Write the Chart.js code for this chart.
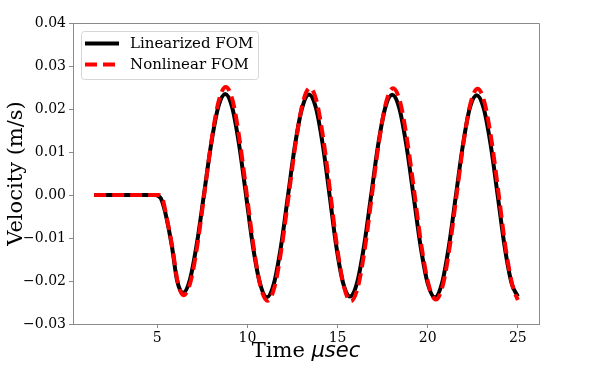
<!DOCTYPE html>
<html>
<head>
<meta charset="utf-8">
<script src="https://cdn.jsdelivr.net/npm/chart.js@4/dist/chart.umd.min.js"></script>
<style>
  html, body { margin: 0; padding: 0; background: #fff; }
  #wrap { width: 598px; height: 366px; }
</style>
</head>
<body>
<div id="wrap"><canvas id="velChart" width="598" height="366"></canvas></div>
<script>
// tick labels
var xTicks = [5, 10, 15, 20, 25];
var yTicks = [-0.03, -0.02, -0.01, 0, 0.01, 0.02, 0.03, 0.04];

// Linearized FOM
var linTime = [1.5, 2.5, 3.5, 4.5, 4.9, 5.0, 5.2, 5.44, 5.81, 6.09, 6.42,
  6.81, 7.20, 7.60, 7.99, 8.38, 8.77,
  9.16, 9.54, 9.93, 10.31, 10.70, 11.08,
  11.47, 11.86, 12.25, 12.64, 13.03, 13.42,
  13.80, 14.18, 14.56, 14.93, 15.31, 15.69,
  16.08, 16.47, 16.86, 17.25, 17.64, 18.03,
  18.43, 18.82, 19.22, 19.61, 20.01, 20.40,
  20.79, 21.17, 21.56, 21.95, 22.33, 22.72,
  23.11, 23.50, 23.89, 24.27, 24.66, 25.0];
var linVel = [0, 0, 0, 0, 0, -0.0001, -0.0008, -0.0040, -0.0119, -0.0197, -0.0228,
  -0.0197, -0.0112, 0.0004, 0.0119, 0.0204, 0.0235,
  0.0203, 0.0117, -0.0002, -0.0120, -0.0206, -0.0238,
  -0.0206, -0.0120, -0.0002, 0.0116, 0.0202, 0.0234,
  0.0203, 0.0117, -0.0001, -0.0119, -0.0205, -0.0236,
  -0.0205, -0.0119, -0.0002, 0.0116, 0.0202, 0.0233,
  0.0201, 0.0115, -0.0003, -0.0120, -0.0207, -0.0238,
  -0.0206, -0.0121, -0.0003, 0.0115, 0.0201, 0.0232,
  0.0201, 0.0115, -0.0003, -0.0120, -0.0206, -0.0236];

// Nonlinear FOM
var nonTime = [1.5, 2.5, 3.5, 4.5, 5.1, 5.3, 5.5, 5.85, 6.12, 6.46,
  6.85, 7.24, 7.63, 8.02, 8.41, 8.80,
  9.19, 9.57, 9.96, 10.35, 10.73, 11.12,
  11.51, 11.90, 12.30, 12.69, 13.08, 13.47,
  13.85, 14.23, 14.61, 14.98, 15.36, 15.74,
  16.13, 16.52, 16.91, 17.30, 17.69, 18.08,
  18.48, 18.87, 19.27, 19.66, 20.06, 20.45,
  20.84, 21.22, 21.61, 22.00, 22.38, 22.77,
  23.16, 23.55, 23.94, 24.32, 24.71, 25.0];
var nonVel = [0, 0, 0, 0, 0, -0.0010, -0.0048, -0.0125, -0.0200, -0.0233,
  -0.0201, -0.0112, 0.0009, 0.0130, 0.0219, 0.0251,
  0.0218, 0.0127, 0.0003, -0.0122, -0.0213, -0.0246,
  -0.0213, -0.0122, 0.0002, 0.0125, 0.0216, 0.0249,
  0.0216, 0.0125, 0.0001, -0.0123, -0.0214, -0.0247,
  -0.0214, -0.0123, 0.0001, 0.0124, 0.0215, 0.0248,
  0.0215, 0.0125, 0.0003, -0.0120, -0.0210, -0.0243,
  -0.0210, -0.0121, 0.0002, 0.0125, 0.0214, 0.0247,
  0.0214, 0.0124, 0.0001, -0.0122, -0.0212, -0.0244];

function toPoints(xs, ys) {
  return xs.map(function (x, i) { return { x: x, y: ys[i] }; });
}

var frameColor = '#8a8a8a';
var serif = "'DejaVu Serif', serif";

// frame top/right, legend box and x title
var extras = {
  id: 'extras',
  afterDraw: function (chart) {
    var ctx = chart.ctx, a = chart.chartArea;
    ctx.save();
    ctx.strokeStyle = frameColor;
    ctx.lineWidth = 1;
    ctx.beginPath();
    ctx.moveTo(a.left, a.top + 0.5);
    ctx.lineTo(a.right + 0.5, a.top + 0.5);
    ctx.lineTo(a.right + 0.5, a.bottom);
    ctx.stroke();

    // legend
    var bx = 81.5, by = 31.5, bw = 177, bh = 48;
    ctx.fillStyle = 'rgba(255,255,255,0.8)';
    ctx.strokeStyle = '#d6d6d6';
    ctx.beginPath();
    ctx.roundRect(bx, by, bw, bh, 3);
    ctx.fill();
    ctx.stroke();
    var ds = chart.data.datasets;
    var rows = [ds[0], ds[1]];
    var ys = [43.5, 64.5];
    rows.forEach(function (d, i) {
      ctx.strokeStyle = d.borderColor;
      ctx.lineWidth = d.borderWidth;
      ctx.setLineDash(d.borderDash || []);
      ctx.beginPath();
      ctx.moveTo(85, ys[i]);
      ctx.lineTo(119, ys[i]);
      ctx.stroke();
      ctx.setLineDash([]);
      ctx.fillStyle = '#000';
      ctx.font = '15px ' + serif;
      ctx.textBaseline = 'middle';
      ctx.textAlign = 'left';
      ctx.fillText(d.label, 130, ys[i] + 1);
    });

    // x axis title: "Time" serif + italic "μsec"
    var t1 = 'Time ', t2 = '\u03bcsec';
    ctx.font = '21px ' + serif;
    var w1 = ctx.measureText(t1).width;
    ctx.font = "italic 21px 'DejaVu Sans', sans-serif";
    var w2 = ctx.measureText(t2).width;
    var cx = (a.left + a.right) / 2;
    var sx = cx - (w1 + w2) / 2;
    ctx.fillStyle = '#000';
    ctx.textBaseline = 'alphabetic';
    ctx.font = '21px ' + serif;
    ctx.fillText(t1, sx, 357);
    ctx.font = "italic 21px 'DejaVu Sans', sans-serif";
    ctx.fillText(t2, sx + w1, 357);
    ctx.restore();
  }
};

var ctxV = document.getElementById('velChart').getContext('2d');
var velChart = new Chart(ctxV, {
  type: 'line',
  data: {
    datasets: [{
      label: 'Linearized FOM',
      data: toPoints(linTime, linVel),
      borderColor: '#000000',
      borderWidth: 4,
      pointRadius: 0,
      fill: false,
      cubicInterpolationMode: 'monotone',
      order: 1
    }, {
      label: 'Nonlinear FOM',
      data: toPoints(nonTime, nonVel),
      borderColor: '#ff0000',
      borderWidth: 4,
      borderDash: [12, 6],
      pointRadius: 0,
      fill: false,
      cubicInterpolationMode: 'monotone',
      order: 0
    }]
  },
  options: {
    responsive: false,
    animation: false,
    layout: { padding: { left: 0, top: 23, right: 59, bottom: 0 } },
    plugins: {
      legend: { display: false },
      tooltip: { enabled: false }
    },
    scales: {
      x: {
        type: 'linear',
        min: 0.325,
        max: 26.175,
        afterBuildTicks: function (s) { s.ticks = xTicks.map(function (v) { return { value: v }; }); },
        afterFit: function (s) { s.height = 42; },
        grid: { drawOnChartArea: false, drawTicks: true, tickLength: 4, color: frameColor },
        border: { display: true, color: frameColor, width: 1 },
        ticks: {
          autoSkip: false, maxRotation: 0, padding: 2, color: '#000',
          font: { family: serif, size: 14 },
          callback: function (v) { return String(v); }
        }
      },
      y: {
        min: -0.03,
        max: 0.04,
        afterBuildTicks: function (s) { s.ticks = yTicks.map(function (v) { return { value: v }; }); },
        afterFit: function (s) { s.width = 73; },
        grid: { drawOnChartArea: false, drawTicks: true, tickLength: 4, color: frameColor },
        border: { display: true, color: frameColor, width: 1 },
        title: {
          display: true,
          text: 'Velocity (m/s)',
          color: '#000',
          font: { family: serif, size: 21 },
          padding: { top: 4, bottom: 0 }
        },
        ticks: {
          autoSkip: false, padding: 3, color: '#000',
          font: { family: serif, size: 14 },
          callback: function (v) {
            var s = Math.abs(v).toFixed(2);
            return (v < -1e-9 ? '\u2212' : '') + s;
          }
        }
      }
    }
  },
  plugins: [extras]
});
</script>
</body>
</html>
